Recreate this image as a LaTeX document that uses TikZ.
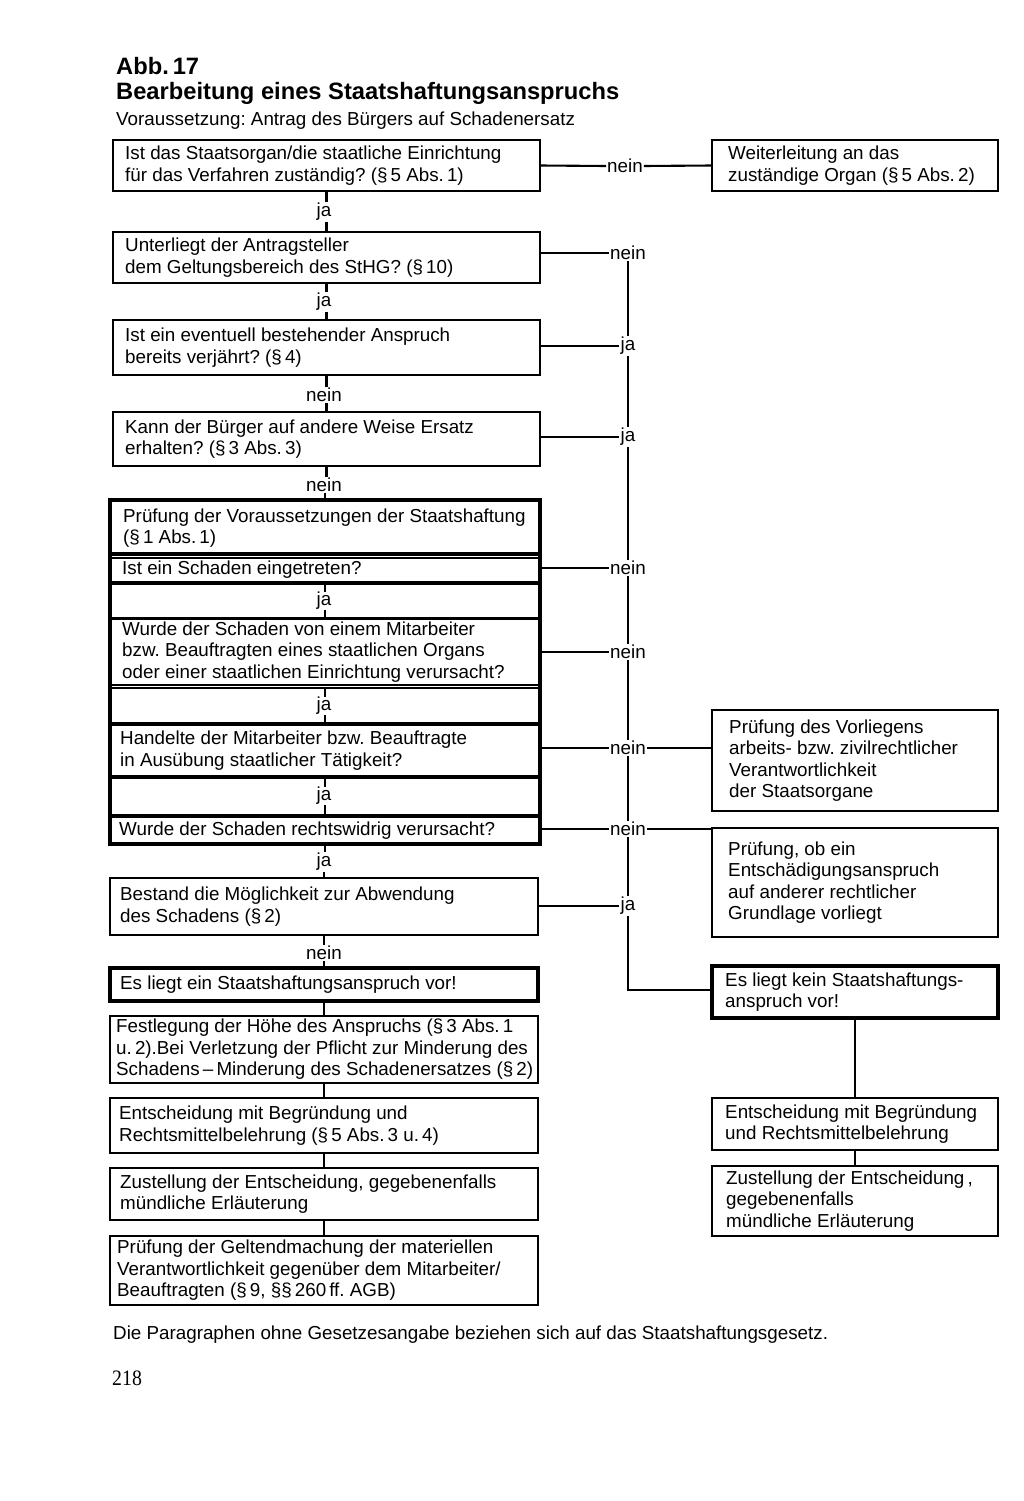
\documentclass[tikz,border=0pt]{standalone}
\usepackage{fontspec}
\setmainfont{Liberation Sans}
\newfontfamily\pagefont[FakeStretch=0.9]{Liberation Serif}
\newcommand\bodyfont{\fontsize{18.8}{21.5}\selectfont}
\newcommand\titlefont{\bfseries\fontsize{23.7}{26}\selectfont}
\frenchspacing
\tikzset{
  bx/.style={draw, line width=2.1pt, anchor=north west, inner sep=0pt, outer sep=0pt, rectangle},
  thickbx/.style={bx, line width=4pt},
  tx/.style={anchor=west, align=left, inner sep=0pt, font=\bodyfont},
  lbl/.style={inner sep=1pt, font=\bodyfont},
  ln/.style={line width=2.1pt},
}
\begin{document}
\begin{tikzpicture}[x=1pt,y=-1pt]
\useasboundingbox (0,0) rectangle (1024,1501);
% titles
\node[anchor=base west, inner sep=0pt, font=\titlefont] (t1) at (116,75) {Abb.\,17};
\node[anchor=base west, inner sep=0pt, font=\titlefont] (t2) at (116,100) {Bearbeitung eines Staatshaftungsanspruchs};
\node[anchor=base west, inner sep=0pt, font=\bodyfont] (t3) at (116,126) {Voraussetzung: Antrag des Bürgers auf Schadenersatz};

% main column boxes
\node[bx, minimum width=427pt, minimum height=51pt] (b1) at (113,140) {};
\node[tx] (b1t) at ([xshift=12pt]b1.west) {Ist das Staatsorgan/die staatliche Einrichtung\\für das Verfahren zuständig? (§\,5 Abs.\,1)};
\node[bx, minimum width=427pt, minimum height=51pt] (b2) at (113,232) {};
\node[tx] (b2t) at ([xshift=12pt]b2.west) {Unterliegt der Antragsteller\\dem Geltungsbereich des StHG? (§\,10)};
\node[bx, minimum width=427pt, minimum height=55pt] (b3) at (113,320) {};
\node[tx] (b3t) at ([xshift=12pt]b3.west) {Ist ein eventuell bestehender Anspruch\\bereits verjährt? (§\,4)};
\node[bx, minimum width=427pt, minimum height=54pt] (b4) at (113,412) {};
\node[tx] (b4t) at ([xshift=12pt]b4.west) {Kann der Bürger auf andere Weise Ersatz\\erhalten? (§\,3 Abs.\,3)};

% framed block rows
\node[bx, minimum width=430pt, minimum height=54pt] (r0) at (110,500) {};
\node[tx] (r0t) at ([xshift=13pt,yshift=-1pt]r0.west) {Prüfung der Voraussetzungen der Staatshaftung\\(§\,1 Abs.\,1)};
\node[bx, minimum width=430pt, minimum height=24pt] (r1) at (110,558) {};
\node[tx] (r1t) at ([xshift=12pt]r1.west) {Ist ein Schaden eingetreten?};
\node[bx, minimum width=430pt, minimum height=34pt] (j1) at (110,584) {};
\node[bx, minimum width=430pt, minimum height=66pt] (r2) at (110,619) {};
\node[tx] (r2t) at ([xshift=12pt]r2.west) {Wurde der Schaden von einem Mitarbeiter\\bzw. Beauftragten eines staatlichen Organs\\oder einer staatlichen Einrichtung verursacht?};
\node[bx, minimum width=430pt, minimum height=35pt] (j2) at (110,688) {};
\node[bx, minimum width=430pt, minimum height=51pt] (r3) at (110,725) {};
\node[tx] (r3t) at ([xshift=10pt]r3.west) {Handelte der Mitarbeiter bzw. Beauftragte\\in Ausübung staatlicher Tätigkeit?};
\node[bx, minimum width=430pt, minimum height=37pt] (j3) at (110,778) {};
\node[bx, minimum width=430pt, minimum height=27pt] (r4) at (110,817) {};
\node[tx] (r4t) at ([xshift=9pt]r4.west) {Wurde der Schaden rechtswidrig verursacht?};
\draw[line width=4pt] (r0.south west) -- (r0.south east);
\node[thickbx, minimum width=430pt, minimum height=344pt] (frame) at (110,500) {};

% ja labels in frame rows
\node[lbl, inner sep=0.5pt] (jl1) at (324,601) {ja};
\node[lbl, inner sep=0.5pt] (jl2) at (324,706) {ja};
\node[lbl, inner sep=0.5pt] (jl3) at (324,796) {ja};
\foreach \r/\l in {j1/jl1, j2/jl2, j3/jl3}{
  \draw[ln] (\r.north) -- (\r.north |- \l.north);
  \draw[ln] (\r.south |- \l.south) -- (\r.south);
}

% lower main column
\node[bx, minimum width=428pt, minimum height=57pt] (b5) at (110,878) {};
\node[tx] (b5t) at ([xshift=10pt]b5.west) {Bestand die Möglichkeit zur Abwendung\\des Schadens (§\,2)};
\node[thickbx, minimum width=428pt, minimum height=33pt] (b6) at (110,968) {};
\node[tx] (b6t) at ([xshift=10pt]b6.west) {Es liegt ein Staatshaftungsanspruch vor!};
\node[bx, minimum width=428pt, minimum height=67pt] (b7) at (110,1016) {};
\node[tx] (b7t) at ([xshift=6pt]b7.west) {Festlegung der Höhe des Anspruchs (§\,3 Abs.\,1\\u.\,2).Bei Verletzung der Pflicht zur Minderung des\\Schadens\,–\,Minderung des Schadenersatzes (§\,2)};
\node[bx, minimum width=428pt, minimum height=55pt] (b8) at (110,1098) {};
\node[tx] (b8t) at ([xshift=9pt]b8.west) {Entscheidung mit Begründung und\\Rechtsmittelbelehrung (§\,5 Abs.\,3 u.\,4)};
\node[bx, minimum width=428pt, minimum height=52pt] (b9) at (110,1168) {};
\node[tx] (b9t) at ([xshift=10pt]b9.west) {Zustellung der Entscheidung, gegebenenfalls\\mündliche Erläuterung};
\node[bx, minimum width=428pt, minimum height=69pt] (b10) at (110,1236) {};
\node[tx] (b10t) at ([xshift=7pt]b10.west) {Prüfung der Geltendmachung der materiellen\\Verantwortlichkeit gegenüber dem Mitarbeiter/\\Beauftragten (§\,9, §§\,260\,ff. AGB)};

% right column boxes
\node[bx, minimum width=286pt, minimum height=51pt] (w1) at (712,140) {};
\node[tx] (w1t) at ([xshift=16pt]w1.west) {Weiterleitung an das\\zuständige Organ (§\,5 Abs.\,2)};
\node[bx, minimum width=286pt, minimum height=101pt] (p1) at (712,710) {};
\node[tx] (p1t) at ([xshift=17pt]p1.west) {Prüfung des Vorliegens\\arbeits- bzw. zivilrechtlicher\\Verantwortlichkeit\\der Staatsorgane};
\node[bx, minimum width=286pt, minimum height=109pt] (p2) at (712,828) {};
\node[tx] (p2t) at ([xshift=16pt]p2.west) {Prüfung, ob ein\\Entschädigungsanspruch\\auf anderer rechtlicher\\Grundlage vorliegt};
\node[thickbx, minimum width=286pt, minimum height=52pt] (k) at (712,966) {};
\node[tx] (kt) at ([xshift=13pt]k.west) {Es liegt kein Staatshaftungs-\\anspruch vor!};
\node[bx, minimum width=286pt, minimum height=52pt] (e2) at (712,1098) {};
\node[tx] (e2t) at ([xshift=13pt]e2.west) {Entscheidung mit Begründung\\und Rechtsmittelbelehrung};
\node[bx, minimum width=286pt, minimum height=70pt] (z2) at (712,1166) {};
\node[tx] (z2t) at ([xshift=14pt]z2.west) {Zustellung der Entscheidung\,,\\gegebenenfalls\\mündliche Erläuterung};

% left labels
\node[lbl] (lj1) at (324,212) {ja};
\node[lbl] (lj2) at (324,302) {ja};
\node[lbl] (ln3) at (324,395) {nein};
\node[lbl] (ln4) at (324,485) {nein};
\node[lbl] (lj9) at (324,862) {ja};
\node[lbl] (ln10) at (324,953) {nein};

\draw[ln] (b1.south) -- (b1.south |- lj1.north);
\draw[ln] (b2.north |- lj1.south) -- (b2.north);
\draw[ln] (b2.south) -- (b2.south |- lj2.north);
\draw[ln] (b3.north |- lj2.south) -- (b3.north);
\draw[ln] (b3.south) -- (b3.south |- ln3.north);
\draw[ln] (b4.north |- ln3.south) -- (b4.north);
\draw[ln] (b4.south) -- (b4.south |- ln4.north);
\draw[ln] (frame.north |- ln4.south) -- (frame.north);
\draw[ln] (frame.south) -- (frame.south |- lj9.north);
\draw[ln] (b5.north |- lj9.south) -- (b5.north);
\draw[ln] (b5.south) -- (b5.south |- ln10.north);
\draw[ln] (b6.north |- ln10.south) -- (b6.north);
\draw[ln] (b6.south) -- (b7.north);
\draw[ln] (b7.south) -- (b8.north);
\draw[ln] (b8.south) -- (b9.north);
\draw[ln] (b9.south) -- (b10.north);

% right labels
\node[lbl] (n1) at (625,166) {nein};
\node[lbl] (n2) at (628,253) {nein};
\node[lbl] (j3l) at (628,346) {ja};
\node[lbl] (j4l) at (628,437) {ja};
\node[lbl] (n5) at (628,568) {nein};
\node[lbl] (n6) at (628,652) {nein};
\node[lbl] (n7) at (628,748) {nein};
\node[lbl] (n8) at (628,829) {nein};
\node[lbl] (j9l) at (628,906) {ja};
\coordinate (c) at (628,990);

\draw[ln] (b1.east) -- (n1.west);
\draw[ln] (n1.east) -- (w1.west);
\draw[ln] (b2.east |- n2) -- (n2.west);
\draw[ln] (b3.east |- j3l) -- (j3l.west);
\draw[ln] (b4.east |- j4l) -- (j4l.west);
\draw[ln] (frame.east |- n5) -- (n5.west);
\draw[ln] (frame.east |- n6) -- (n6.west);
\draw[ln] (frame.east |- n7) -- (n7.west);
\draw[ln] (frame.east |- n8) -- (n8.west);
\draw[ln] (n7.east) -- (n7.east -| p1.west);
\draw[ln] (n8.east) -- (n8.east -| p2.west);
\draw[ln] (b5.east |- j9l) -- (j9l.west);

\draw[ln] (n2.south) -- (j3l.north);
\draw[ln] (j3l.south) -- (j4l.north);
\draw[ln] (j4l.south) -- (n5.north);
\draw[ln] (n5.south) -- (n6.north);
\draw[ln] (n6.south) -- (n7.north);
\draw[ln] (n7.south) -- (n8.north);
\draw[ln] (n8.south) -- (j9l.north);
\draw[ln] (j9l.south) -- (c) -- (c -| k.west);

\draw[ln] (k.south) -- (e2.north);
\draw[ln] (e2.south) -- (z2.north);

% footnote and page number
\node[anchor=base west, inner sep=0pt, font=\bodyfont] (fn) at (113,1339) {Die Paragraphen ohne Gesetzesangabe beziehen sich auf das Staatshaftungsgesetz.};
\node[anchor=base west, inner sep=0pt, font=\pagefont\fontsize{22}{24}\selectfont] (pg) at (112,1385) {218};
\end{tikzpicture}
\end{document}
